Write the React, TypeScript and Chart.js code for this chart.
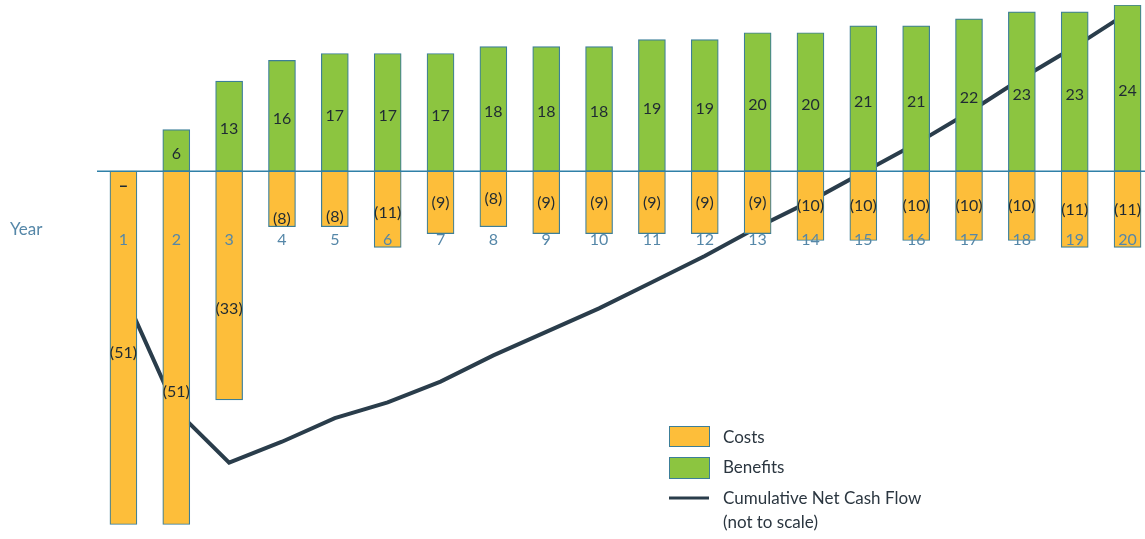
import { useEffect, useRef } from "react";
import { Chart, registerables } from "chart.js";

Chart.register(...registerables);

// Project cash flows by year (values in $ millions; costs shown negative)
const years = [1, 2, 3, 4, 5, 6, 7, 8, 9, 10, 11, 12, 13, 14, 15, 16, 17, 18, 19, 20];
const costs = [-51, -51, -33, -8, -8, -11, -9, -8, -9, -9, -9, -9, -9, -10, -10, -10, -10, -10, -11, -11];
const benefits = [0, 6, 13, 16, 17, 17, 17, 18, 18, 18, 19, 19, 20, 20, 21, 21, 22, 23, 23, 24];
const cumulativeNet = [-51, -96, -116, -108, -99, -93, -85, -75, -66, -57, -47, -37, -26, -16, -5, 6, 18, 31, 43, 56];

const COST_FILL = "#FDBE3A";
const BENEFIT_FILL = "#8CC540";
const BAR_EDGE = "#3C7E98";
const AXIS_LINE = "#2F80A8";
const CASH_LINE = "#2A3D4B";
const YEAR_TEXT = "#5587A8";
const LABEL_TEXT = "#1F2A33";
const FONT = "Lato, 'Open Sans', sans-serif";

// extra downward nudge (px) for a few cost labels so they clear the trend line
const costLabelNudge: Record<number, number> = { 1: 5, 2: 44, 3: 23, 4: 20, 5: 18, 6: 3 };

const fmtCost = (v: number) => `(${Math.abs(v)})`;
const fmtBenefit = (v: number) => (v === 0 ? "\u2013" : String(v));

const annotations = {
  id: "cashflowAnnotations",
  afterDatasetsDraw(chart: any) {
    const { ctx, chartArea, scales } = chart;
    const xs = scales.x;
    const ys = scales.y;
    const zeroY = ys.getPixelForValue(0);

    ctx.save();
    // zero line across the plot
    ctx.strokeStyle = AXIS_LINE;
    ctx.lineWidth = 1.6;
    ctx.beginPath();
    ctx.moveTo(chartArea.left, zeroY);
    ctx.lineTo(chartArea.right, zeroY);
    ctx.stroke();

    ctx.textAlign = "center";
    ctx.textBaseline = "middle";
    ctx.font = `16px ${FONT}`;
    ctx.fillStyle = LABEL_TEXT;

    const costMeta = chart.getDatasetMeta(0);
    const benMeta = chart.getDatasetMeta(1);

    costMeta.data.forEach((bar: any, i: number) => {
      const mid = (bar.y + bar.base) / 2;
      const nudge = costLabelNudge[years[i]] || 0;
      ctx.fillText(fmtCost(costs[i]), bar.x, mid + nudge);
    });

    benMeta.data.forEach((bar: any, i: number) => {
      if (benefits[i] === 0) {
        ctx.save();
        ctx.font = `bold 17px ${FONT}`;
        ctx.fillText(fmtBenefit(0), bar.x, zeroY + 14);
        ctx.restore();
        return;
      }
      const mid = (bar.y + bar.base) / 2;
      ctx.fillText(fmtBenefit(benefits[i]), bar.x, mid + 3);
    });

    // year row
    ctx.fillStyle = YEAR_TEXT;
    ctx.font = `16px ${FONT}`;
    const yearRowY = zeroY + 69;
    years.forEach((yr) => {
      ctx.fillText(String(yr), xs.getPixelForValue(yr), yearRowY);
    });
    ctx.textAlign = "left";
    ctx.font = `17px ${FONT}`;
    ctx.fillText("Year", 10, yearRowY - 11);

    // legend
    const lx = 669;
    const lw = 40;
    const tx = 723;
    ctx.lineWidth = 1;
    ctx.strokeStyle = BAR_EDGE;
    ctx.fillStyle = COST_FILL;
    ctx.fillRect(lx, 426, lw, 20);
    ctx.strokeRect(lx + 0.5, 426.5, lw, 20);
    ctx.fillStyle = BENEFIT_FILL;
    ctx.fillRect(lx, 457, lw, 21);
    ctx.strokeRect(lx + 0.5, 457.5, lw, 21);
    ctx.strokeStyle = CASH_LINE;
    ctx.lineWidth = 3;
    ctx.beginPath();
    ctx.moveTo(lx, 498);
    ctx.lineTo(lx + lw, 498);
    ctx.stroke();

    ctx.fillStyle = "#2B3640";
    ctx.font = `17px ${FONT}`;
    ctx.fillText("Costs", tx, 438);
    ctx.fillText("Benefits", tx, 468);
    ctx.fillText("Cumulative Net Cash Flow", tx, 499);
    ctx.fillText("(not to scale)", tx, 523);
    ctx.restore();
  },
};

export default function App() {
  const canvasRef = useRef<HTMLCanvasElement | null>(null);

  useEffect(() => {
    if (!canvasRef.current) return;
    const chart = new Chart(canvasRef.current, {
      type: "bar",
      data: {
        datasets: [
          {
            type: "bar",
            label: "Costs",
            data: years.map((yr, i) => ({ x: yr, y: costs[i] })),
            backgroundColor: COST_FILL,
            borderColor: BAR_EDGE,
            borderWidth: 1.2,
            borderSkipped: false,
            barThickness: 27,
            grouped: false,
            order: 1,
            yAxisID: "y",
          },
          {
            type: "bar",
            label: "Benefits",
            data: years.map((yr, i) => ({ x: yr, y: benefits[i] })),
            backgroundColor: BENEFIT_FILL,
            borderColor: BAR_EDGE,
            borderWidth: (c: any) => (benefits[c.dataIndex] === 0 ? 0 : 1.2),
            borderSkipped: false,
            barThickness: 27,
            grouped: false,
            order: 1,
            yAxisID: "y",
          },
          {
            type: "line",
            label: "Cumulative Net Cash Flow (not to scale)",
            data: years.map((yr, i) => ({ x: yr, y: cumulativeNet[i] })),
            borderColor: CASH_LINE,
            borderWidth: 4,
            pointRadius: 0,
            tension: 0,
            fill: false,
            order: 10,
            yAxisID: "y2",
          },
        ] as any,
      },
      options: {
        animation: false,
        responsive: false,
        layout: { padding: { left: 97, right: 0, top: 5, bottom: 11 } },
        scales: {
          x: { type: "linear", min: 0.5, max: 20.33, offset: false, display: false },
          y: { min: -51.5, max: 24, display: false },
          y2: { min: -141, max: 59, display: false },
        },
        plugins: {
          legend: { display: false },
          tooltip: { enabled: false },
        },
      },
      plugins: [annotations],
    });
    return () => chart.destroy();
  }, []);

  return (
    <div style={{ position: "absolute", left: 0, top: 0, width: 1145, height: 539, background: "#fff" }}>
      <canvas ref={canvasRef} width={1145} height={539} style={{ display: "block" }} />
    </div>
  );
}
